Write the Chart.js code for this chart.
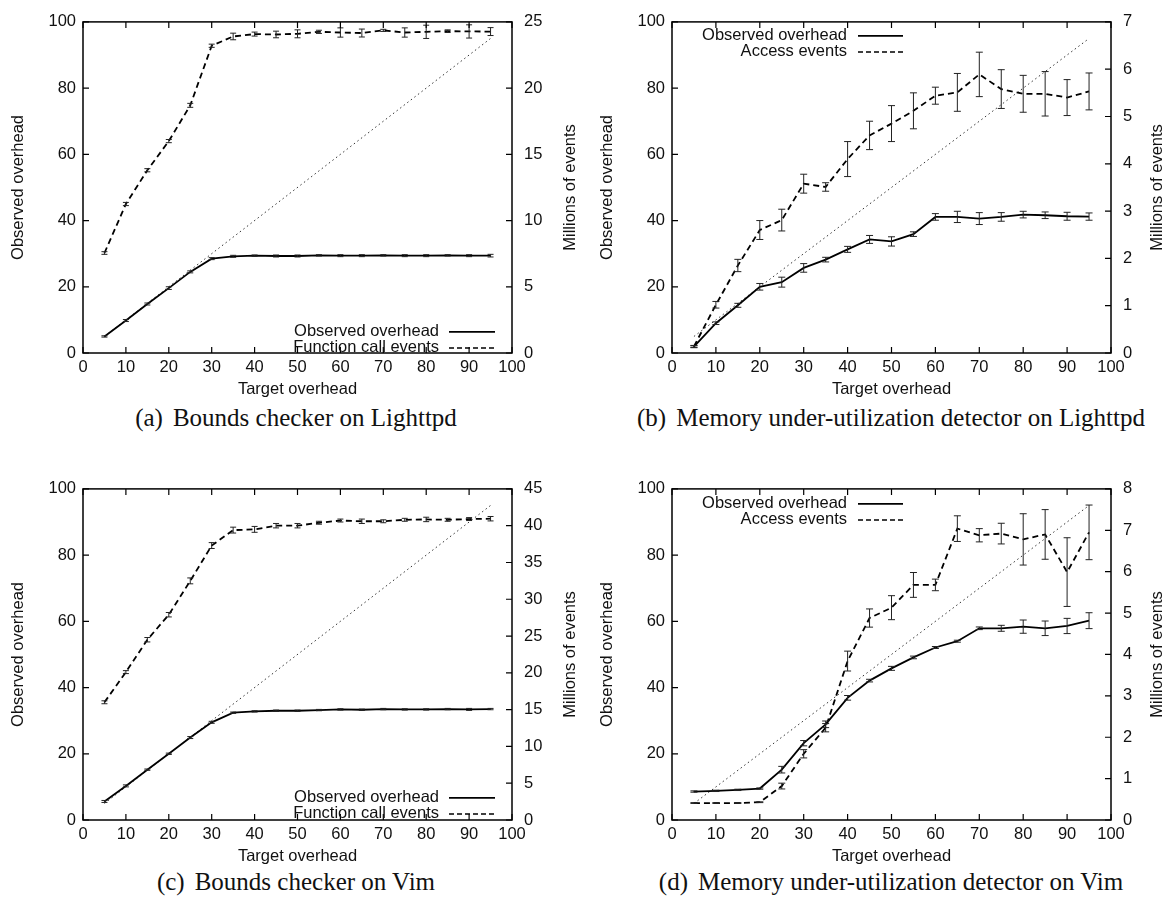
<!DOCTYPE html>
<html>
<head>
<meta charset="utf-8">
<title>Observed overhead vs target overhead</title>
<script src="https://cdn.jsdelivr.net/npm/chart.js@4.4.1/dist/chart.umd.min.js"></script>
<style>
  html, body { margin: 0; padding: 0; background: #fff; }
  body { width: 1167px; height: 913px; position: relative; overflow: hidden; }
  .panel { position: absolute; width: 590px; height: 400px; }
  .panel.right { width: 577px; }
  .caption {
    position: absolute;
    transform: translateX(-50%);
    font-family: "Liberation Serif", "DejaVu Serif", serif;
    font-size: 25px;
    line-height: 28px;
    color: #111;
    white-space: nowrap;
  }
  .caption span { margin-right: 10px; }
</style>
</head>
<body>

<div class="panel" style="left:0;top:0"><canvas id="chartA"></canvas></div>
<div class="panel right" style="left:590px;top:0"><canvas id="chartB"></canvas></div>
<div class="panel" style="left:0;top:467px"><canvas id="chartC"></canvas></div>
<div class="panel right" style="left:590px;top:467px"><canvas id="chartD"></canvas></div>

<div class="caption" style="left:296px;top:404px"><span>(a)</span>Bounds checker on Lighttpd</div>
<div class="caption" style="left:891px;top:404px"><span>(b)</span>Memory under-utilization detector on Lighttpd</div>
<div class="caption" style="left:296px;top:868px"><span>(c)</span>Bounds checker on Vim</div>
<div class="caption" style="left:891px;top:868px"><span>(d)</span>Memory under-utilization detector on Vim</div>

<script>
// Shared x values and tick labels
const targetOverhead = [5, 10, 15, 20, 25, 30, 35, 40, 45, 50, 55, 60, 65, 70, 75, 80, 85, 90, 95];
const xTickValues = [0, 10, 20, 30, 40, 50, 60, 70, 80, 90, 100];
const overheadTickValues = [0, 20, 40, 60, 80, 100];

// Ideal line (observed == target)
const idealX = [5, 95];
const idealY = [5, 95];

// (a) Bounds checker on Lighttpd
const aObserved = [5.0, 9.8, 14.8, 19.6, 24.5, 28.5, 29.2, 29.4, 29.3, 29.3, 29.5, 29.4, 29.4, 29.5, 29.4, 29.4, 29.5, 29.4, 29.4];
const aObservedErr = [0.2, 0.3, 0.3, 0.4, 0.3, 0.3, 0.3, 0.2, 0.3, 0.3, 0.2, 0.3, 0.3, 0.2, 0.3, 0.3, 0.2, 0.3, 0.4];
const aEvents = [7.55, 11.25, 13.8, 16.0, 18.7, 23.2, 23.9, 24.08, 24.05, 24.1, 24.25, 24.2, 24.16, 24.36, 24.2, 24.25, 24.3, 24.28, 24.27];
const aEventsErr = [0.1, 0.12, 0.12, 0.12, 0.15, 0.12, 0.25, 0.15, 0.25, 0.3, 0.12, 0.35, 0.3, 0.08, 0.35, 0.5, 0.1, 0.5, 0.3];
const aEventTicks = [0, 5, 10, 15, 20, 25];

// (b) Memory under-utilization detector on Lighttpd
const bObserved = [1.9, 9.0, 14.4, 20.0, 21.4, 25.7, 28.2, 31.3, 34.3, 33.7, 35.9, 41.1, 41.1, 40.6, 41.1, 41.8, 41.6, 41.3, 41.2];
const bObservedErr = [0.3, 0.4, 0.6, 1.0, 1.5, 1.3, 0.7, 0.9, 1.2, 1.4, 0.7, 1.0, 1.7, 1.8, 1.3, 1.0, 1.0, 1.2, 1.1];
const bEvents = [0.14, 1.02, 1.85, 2.6, 2.81, 3.58, 3.51, 4.1, 4.6, 4.85, 5.12, 5.44, 5.51, 5.89, 5.58, 5.48, 5.48, 5.40, 5.53];
const bEventsErr = [0.02, 0.07, 0.13, 0.2, 0.23, 0.2, 0.09, 0.37, 0.3, 0.38, 0.38, 0.18, 0.4, 0.47, 0.41, 0.39, 0.47, 0.38, 0.39];
const bEventTicks = [0, 1, 2, 3, 4, 5, 6, 7];

// (c) Bounds checker on Vim
const cObserved = [5.6, 10.3, 15.2, 20.0, 24.9, 29.5, 32.4, 32.8, 33.0, 33.0, 33.2, 33.4, 33.3, 33.5, 33.4, 33.4, 33.5, 33.4, 33.5];
const cObservedErr = [0.3, 0.3, 0.2, 0.2, 0.3, 0.3, 0.2, 0.2, 0.2, 0.2, 0.2, 0.2, 0.2, 0.2, 0.2, 0.2, 0.2, 0.3, 0.2];
const cEvents = [16.0, 20.1, 24.5, 27.9, 32.5, 37.3, 39.4, 39.5, 40.0, 40.0, 40.4, 40.7, 40.6, 40.6, 40.8, 40.85, 40.8, 40.9, 40.95];
const cEventsErr = [0.2, 0.2, 0.3, 0.3, 0.4, 0.4, 0.4, 0.4, 0.3, 0.3, 0.2, 0.2, 0.3, 0.2, 0.2, 0.3, 0.2, 0.2, 0.3];
const cEventTicks = [0, 5, 10, 15, 20, 25, 30, 35, 40, 45];

// (d) Memory under-utilization detector on Vim
const dObserved = [8.6, 8.8, 9.1, 9.5, 15.2, 23.2, 28.9, 36.9, 42.1, 45.8, 49.1, 52.1, 54.0, 57.9, 57.9, 58.4, 57.9, 58.6, 60.2];
const dObservedErr = [0.2, 0.2, 0.2, 0.2, 1.0, 0.8, 1.0, 0.7, 0.4, 0.6, 0.4, 0.3, 0.3, 0.4, 0.9, 2.0, 2.2, 2.3, 2.4];
const dEvents = [0.41, 0.41, 0.41, 0.43, 0.82, 1.6, 2.23, 3.84, 4.88, 5.13, 5.68, 5.68, 7.04, 6.88, 6.92, 6.78, 6.9, 5.99, 6.95];
const dEventsErr = [0.01, 0.01, 0.01, 0.01, 0.07, 0.1, 0.1, 0.24, 0.22, 0.29, 0.3, 0.14, 0.31, 0.16, 0.25, 0.62, 0.6, 0.83, 0.66];
const dEventTicks = [0, 1, 2, 3, 4, 5, 6, 7, 8];

Chart.defaults.font.family = '"Liberation Sans", Arial, Helvetica, sans-serif';
Chart.defaults.font.size = 16.5;
Chart.defaults.color = '#111';

const FONT = '16.5px "Liberation Sans", Arial, Helvetica, sans-serif';

// Panel settings (layout only)
const panels = [
  { id: 'chartA', obs: aObserved, obsErr: aObservedErr, events: aEvents, eventsErr: aEventsErr,
    eventTicks: aEventTicks, eventsLabel: 'Function call events',
    leftWidth: 83, rightWidth: 78, rightTitleGap: 58, cap: 3,
    legend: { textRight: 356, lineFrom: 366, lineTo: 412, rows: [310, 326] } },
  { id: 'chartB', obs: bObserved, obsErr: bObservedErr, events: bEvents, eventsErr: bEventsErr,
    eventTicks: bEventTicks, eventsLabel: 'Access events',
    leftWidth: 82, rightWidth: 56, rightTitleGap: 46, cap: 3.5,
    legend: { textRight: 175, lineFrom: 186, lineTo: 231, rows: [14, 30] } },
  { id: 'chartC', obs: cObserved, obsErr: cObservedErr, events: cEvents, eventsErr: cEventsErr,
    eventTicks: cEventTicks, eventsLabel: 'Function call events',
    leftWidth: 83, rightWidth: 78, rightTitleGap: 58, cap: 3,
    legend: { textRight: 356, lineFrom: 366, lineTo: 412, rows: [309, 325] } },
  { id: 'chartD', obs: dObserved, obsErr: dObservedErr, events: dEvents, eventsErr: dEventsErr,
    eventTicks: dEventTicks, eventsLabel: 'Access events',
    leftWidth: 82, rightWidth: 56, rightTitleGap: 46, cap: 3.5,
    legend: { textRight: 175, lineFrom: 186, lineTo: 231, rows: [15, 31] } },
];

function seriesPoints(xs, ys) {
  return xs.map((x, i) => ({ x, y: ys[i] }));
}

function setTicks(values) {
  return (scale) => { scale.ticks = values.map(v => ({ value: v })); };
}

// gnuplot-like decorations: frame, inward ticks, error bars, key, axis titles
function makeDecor(p) {
  return {
    id: 'decor_' + p.id,
    afterDraw(chart) {
      const { ctx, chartArea: a, scales } = chart;
      const xs = scales.x, ys = scales.y, y2 = scales.y2;
      ctx.save();

      // error bars
      const bars = (scale, vals, errs) => {
        ctx.beginPath();
        targetOverhead.forEach((t, i) => {
          const px = xs.getPixelForValue(t);
          const lo = scale.getPixelForValue(vals[i] - errs[i]);
          const hi = scale.getPixelForValue(vals[i] + errs[i]);
          ctx.moveTo(px, lo); ctx.lineTo(px, hi);
          ctx.moveTo(px - p.cap, lo); ctx.lineTo(px + p.cap, lo);
          ctx.moveTo(px - p.cap, hi); ctx.lineTo(px + p.cap, hi);
        });
        ctx.stroke();
      };
      ctx.strokeStyle = '#222';
      ctx.lineWidth = 1;
      ctx.setLineDash([]);
      bars(ys, p.obs, p.obsErr);
      bars(y2, p.events, p.eventsErr);

      // frame
      ctx.strokeStyle = '#000';
      ctx.lineWidth = 1.5;
      ctx.strokeRect(a.left, a.top, a.right - a.left, a.bottom - a.top);

      // inward ticks
      const tl = 6;
      ctx.lineWidth = 1.2;
      ctx.beginPath();
      xs.ticks.forEach(t => {
        const px = xs.getPixelForValue(t.value);
        ctx.moveTo(px, a.bottom); ctx.lineTo(px, a.bottom - tl);
        ctx.moveTo(px, a.top); ctx.lineTo(px, a.top + tl);
      });
      ys.ticks.forEach(t => {
        const py = ys.getPixelForValue(t.value);
        ctx.moveTo(a.left, py); ctx.lineTo(a.left + tl, py);
      });
      y2.ticks.forEach(t => {
        const py = y2.getPixelForValue(t.value);
        ctx.moveTo(a.right, py); ctx.lineTo(a.right - tl, py);
      });
      ctx.stroke();

      // key
      const lg = p.legend;
      const entries = [
        { text: 'Observed overhead', dash: [], width: 1.8 },
        { text: p.eventsLabel, dash: [5, 3], width: 1.5 },
      ];
      ctx.font = FONT;
      ctx.fillStyle = '#111';
      ctx.textAlign = 'right';
      ctx.textBaseline = 'middle';
      entries.forEach((e, i) => {
        const y = a.top + lg.rows[i];
        ctx.fillText(e.text, a.left + lg.textRight, y);
        ctx.beginPath();
        ctx.setLineDash(e.dash);
        ctx.lineWidth = e.width;
        ctx.moveTo(a.left + lg.lineFrom, y);
        ctx.lineTo(a.left + lg.lineTo, y);
        ctx.stroke();
      });
      ctx.setLineDash([]);

      // axis titles
      const cy = (a.top + a.bottom) / 2;
      const cx = (a.left + a.right) / 2;
      ctx.textAlign = 'center';
      ctx.fillText('Target overhead', cx, a.bottom + 36);

      ctx.save();
      ctx.translate(a.left - 65, cy);
      ctx.rotate(-Math.PI / 2);
      ctx.fillText('Observed overhead', 0, 0);
      ctx.restore();

      ctx.save();
      ctx.translate(a.right + p.rightTitleGap, cy);
      ctx.rotate(-Math.PI / 2);
      ctx.fillText('Millions of events', 0, 0);
      ctx.restore();

      ctx.restore();
    }
  };
}

function makeChart(p) {
  const ctx = document.getElementById(p.id).getContext('2d');
  return new Chart(ctx, {
    type: 'line',
    data: {
      datasets: [
        {
          label: 'Observed overhead',
          data: seriesPoints(targetOverhead, p.obs),
          yAxisID: 'y',
          borderColor: '#000',
          borderWidth: 1.8,
          pointRadius: 0,
          tension: 0,
        },
        {
          label: p.eventsLabel,
          data: seriesPoints(targetOverhead, p.events),
          yAxisID: 'y2',
          borderColor: '#000',
          borderWidth: 1.8,
          borderDash: [6, 4],
          pointRadius: 0,
          tension: 0,
        },
        {
          label: 'Target',
          data: seriesPoints(idealX, idealY),
          yAxisID: 'y',
          borderColor: '#333',
          borderWidth: 1,
          borderDash: [1.5, 3],
          pointRadius: 0,
        },
      ],
    },
    options: {
      responsive: true,
      maintainAspectRatio: false,
      animation: false,
      layout: { padding: { top: 13, left: 0, right: 0, bottom: 0 } },
      plugins: {
        legend: { display: false },
        tooltip: { enabled: false },
      },
      scales: {
        x: {
          type: 'linear',
          min: 0,
          max: 100,
          grid: { display: false, drawTicks: false },
          border: { display: false },
          afterBuildTicks: setTicks(xTickValues),
          afterFit: (s) => { s.height = 47; },
          ticks: { padding: 5, autoSkip: false, maxRotation: 0 },
        },
        y: {
          type: 'linear',
          position: 'left',
          min: 0,
          max: 100,
          grid: { display: false, drawTicks: false },
          border: { display: false },
          afterBuildTicks: setTicks(overheadTickValues),
          afterFit: (s) => { s.width = p.leftWidth; },
          ticks: { padding: 7 },
        },
        y2: {
          type: 'linear',
          position: 'right',
          min: 0,
          max: p.eventTicks[p.eventTicks.length - 1],
          grid: { display: false, drawTicks: false },
          border: { display: false },
          afterBuildTicks: setTicks(p.eventTicks),
          afterFit: (s) => { s.width = p.rightWidth; },
          ticks: { padding: 12 },
        },
      },
    },
    plugins: [makeDecor(p)],
  });
}

panels.forEach(makeChart);
</script>
</body>
</html>
